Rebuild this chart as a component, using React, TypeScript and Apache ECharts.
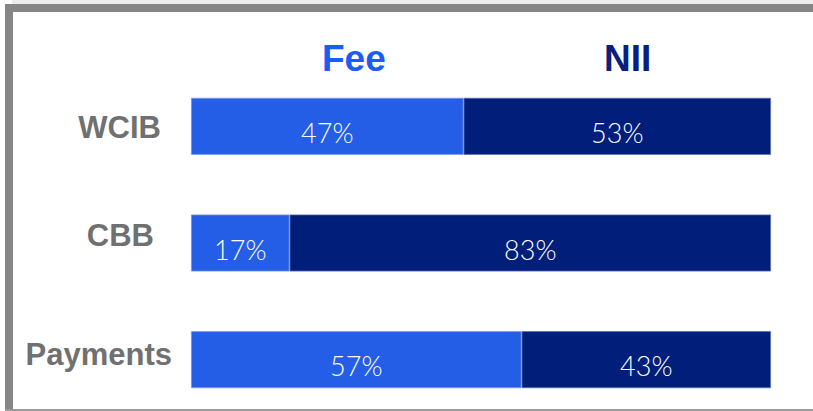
import React, { useEffect, useRef } from "react";
import * as echarts from "echarts";

const categories = ["WCIB", "CBB", "Payments"];
const feeValues = [47, 17, 57];
const niiValues = [53, 83, 43];
const seriesNames = ["Fee", "NII"];

// per-label nudges [right, up]
const labelNudge: [number, number][] = [
  [11, -1.5],
  [18, 8],
  [0, 5],
];

export default function App() {
  const ref = useRef<HTMLDivElement>(null);
  useEffect(() => {
    if (!ref.current) return;
    const chart = echarts.init(ref.current, undefined, { renderer: "svg" });
    const rich: Record<string, any> = {};
    categories.forEach((_, i) => {
      const [r, u] = labelNudge[i];
      rich["c" + i] = {
        fontFamily: "Liberation Sans",
        fontWeight: "bold",
        fontSize: 31,
        color: "#707070",
        padding: [u < 0 ? -2 * u : 0, r, u > 0 ? 2 * u : 0, 0],
      };
    });
    const valueLabel = {
      show: true,
      position: "inside" as const,
      offset: [0, 6],
      color: "#ffffff",
      fontFamily: "Lato",
      fontWeight: 300,
      fontSize: 27,
      formatter: (p: any) => p.value + "%",
    };
    const legendText = { fontFamily: "Liberation Sans", fontWeight: "bold", fontSize: 37 };
    chart.setOption({
      animation: false,
      backgroundColor: "#ffffff",
      grid: { left: 191, right: 42, top: 68, height: 350, outerBoundsMode: "none" },
      legend: [
        {
          data: [{ name: seriesNames[0], textStyle: { color: "#1a5cf8" } }],
          left: 312,
          top: 35,
          icon: "none",
          itemWidth: 0,
          itemHeight: 0,
          textStyle: legendText,
          selectedMode: false,
        },
        {
          data: [{ name: seriesNames[1], textStyle: { color: "#0a1f7c" } }],
          left: 594,
          top: 35,
          icon: "none",
          itemWidth: 0,
          itemHeight: 0,
          textStyle: legendText,
          selectedMode: false,
        },
      ],
      xAxis: { type: "value", min: 0, max: 100, show: false },
      yAxis: {
        type: "category",
        data: categories,
        inverse: true,
        axisLine: { show: false },
        axisTick: { show: false },
        splitLine: { show: false },
        axisLabel: {
          margin: 19,
          formatter: (v: string) => {
            const i = categories.indexOf(v);
            return "{c" + i + "|" + v + "}";
          },
          rich,
        },
      },
      series: [
        {
          name: seriesNames[0],
          type: "bar",
          stack: "total",
          barWidth: 57,
          data: feeValues,
          itemStyle: { color: "#245de6", borderColor: "#7d98e6", borderWidth: 0.8 },
          label: valueLabel,
        },
        {
          name: seriesNames[1],
          type: "bar",
          stack: "total",
          barWidth: 57,
          data: niiValues,
          itemStyle: { color: "#001e7a", borderColor: "#5c6fb5", borderWidth: 0.8 },
          label: valueLabel,
        },
      ],
      graphic: [
        { type: "rect", shape: { x: 12, y: 0, width: 801, height: 4 }, style: { fill: "#ececec" }, silent: true },
        { type: "rect", shape: { x: 5, y: 4, width: 808, height: 8 }, style: { fill: "#868686" }, silent: true },
        { type: "rect", shape: { x: 5, y: 4, width: 8, height: 407 }, style: { fill: "#868686" }, silent: true },
        { type: "rect", shape: { x: 5, y: 409, width: 808, height: 2 }, style: { fill: "#9c9c9c" }, silent: true },
      ],
    });
    return () => chart.dispose();
  }, []);
  return (
    <div
      ref={ref}
      style={{ position: "fixed", left: 0, top: 0, width: 813, height: 411 }}
    />
  );
}
